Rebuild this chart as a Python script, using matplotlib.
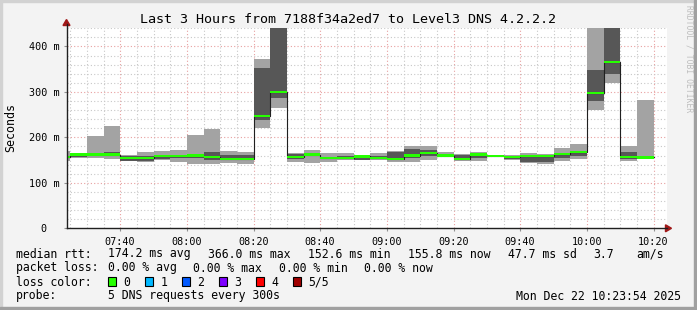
import numpy as np
import matplotlib
matplotlib.use("Agg")
import matplotlib.pyplot as plt
from matplotlib.patches import Rectangle, Polygon

# 5 min steps, first one starts 07:20 (clipped at the left edge)
first_step = "07:20"
ping_min = [149, 155, 155, 152, 147, 146, 150, 146, 141, 141, 144, 142,
            220, 265, 146, 144, 146, 150, 150, 150, 145, 146, 151, 156,
            149, 148, 156, 151, 143, 141, 148, 152, 260, 320, 149, 154]
ping_lo = [154, 156, 160, 158, 149, 147, 152, 155, 155, 150, 152, 152,
           238, 286, 152, 158, 153, 153, 151, 152, 150, 155, 160, 158,
           151, 155, 157, 153, 145, 146, 155, 160, 280, 339, 152, 155]
median = [157, 162, 162, 162, 154, 154, 159, 159, 160, 157.5, 153, 153,
          247, 300, 157, 162, 154, 154, 158, 155, 153, 160, 165, 160,
          152, 162, 158.5, 157.5, 159, 159, 163, 168, 298, 366, 157.5, 155.8]
ping_hi = [160, 163, 165, 167, 160, 160, 162, 161, 164, 167, 162, 162,
           352, 460, 163, 164, 156, 158, 159, 160, 168, 174, 172, 163,
           161, 166, 160, 159, 161, 160, 166, 170, 348, 460, 168, 158]
ping_max = [170, 166, 203, 225, 162, 168, 171, 172, 205, 218, 170, 168,
            372, 480, 166, 172, 166, 165, 161, 166, 169, 180, 180, 168,
            163, 168, 161, 162, 166, 163, 177, 185, 470, 490, 180, 282]

x_major = ["07:40", "08:00", "08:20", "08:40", "09:00", "09:20", "09:40", "10:00", "10:20"]
y_major = [0, 100, 200, 300, 400]
y_labels = ["0  ", "100 m", "200 m", "300 m", "400 m"]

title = "Last 3 Hours from 7188f34a2ed7 to Level3 DNS 4.2.2.2"
end_time = "10:23:54"

loss_colors = ["#26ff00", "#00b8ff", "#0059ff", "#7e00ff", "#ff0000", "#a00000"]
loss_names = ["0", "1", "2", "3", "4", "5/5"]


def tmin(s):
    p = [float(v) for v in s.split(":")]
    return p[0] * 60 + p[1] + (p[2] / 60 if len(p) > 2 else 0)


W, H = 697, 310
mono = "DejaVu Sans Mono"
plt.rcParams["font.family"] = mono

fig = plt.figure(figsize=(W / 100, H / 100), dpi=100)
fig.patch.set_facecolor("#f3f3f3")


def fx(x):
    return x / W


def fy(y):
    return 1 - y / H


t1 = tmin(end_time)
t0 = t1 - 180
ax = fig.add_axes([fx(66.5), fy(228.3), 600 / W, 200 / H])
ax.set_facecolor("white")
ax.set_xlim(t0, t1)
ax.set_ylim(0, 440)

n = len(median)
edges = tmin(first_step) + 5 * np.arange(n + 1)


def ext(a):
    a = np.asarray(a, float)
    return np.append(a, a[-1])


ax.fill_between(edges, ext(ping_min), ext(ping_max), step="post", color="#a3a3a3", lw=0, zorder=2)
ax.fill_between(edges, ext(ping_lo), ext(ping_hi), step="post", color="#575757", lw=0, zorder=3)
ax.step(edges, ext(median), where="post", color="#202020", lw=0.8, zorder=4)
sw = 2.6
ax.fill_between(edges, ext(median) - sw, ext(median) + sw, step="post", color=loss_colors[0], lw=0, zorder=5)

# grid
major_x = [tmin(s) for s in x_major]
minor_x = np.arange(np.ceil(t0 / 5) * 5, t1, 5)
for x in minor_x:
    if x not in major_x:
        ax.axvline(x, color="#c8c8c8", lw=0.8, ls=(0, (1, 2)), zorder=1)
for x in major_x:
    ax.axvline(x, color="#e8a0a0", lw=0.8, ls=(0, (1, 2)), zorder=1)
for y in range(20, 441, 20):
    if y % 100:
        ax.axhline(y, color="#c8c8c8", lw=0.8, ls=(0, (1, 2)), zorder=1)
for y in y_major[1:]:
    ax.axhline(y, color="#e8a0a0", lw=0.8, ls=(0, (1, 2)), zorder=1)

for s in ax.spines.values():
    s.set_visible(False)
ax.set_xticks(major_x)
ax.set_xticklabels(x_major)
ax.set_yticks(y_major)
ax.set_yticklabels(y_labels)
ax.tick_params(axis="both", length=2, width=0.8, color="#909090", labelsize=7.3, pad=3)
ax.tick_params(axis="x", pad=4)

# axis lines with arrows
fig.add_artist(plt.Line2D([fx(66.5), fx(66.5)], [fy(228.3), fy(24)], color="#202020", lw=1))
fig.add_artist(plt.Line2D([fx(66.5), fx(667)], [fy(228.3), fy(228.3)], color="#202020", lw=1))
fig.add_artist(Polygon([(fx(63), fy(25.5)), (fx(70), fy(25.5)), (fx(66.5), fy(19.5))],
                       closed=True, color="#a01818", transform=fig.transFigure))
fig.add_artist(Polygon([(fx(665.5), fy(224.8)), (fx(665.5), fy(231.8)), (fx(671.5), fy(228.3))],
                       closed=True, color="#a01818", transform=fig.transFigure))

fig.text(fx(347.5), fy(19.5), title, ha="center", va="center", fontsize=9.6)
fig.text(fx(11), fy(127.5), "Seconds", rotation=90, ha="center", va="center", fontsize=8.4)
fig.text(fx(689), fy(5), "RRDTOOL / TOBI OETIKER", rotation=-90, ha="center", va="top",
         fontsize=5.8, color="#bdbdbd")

fs = 8.3
row1 = [(16, "median rtt:"), (108, "174.2 ms avg"), (208, "366.0 ms max"), (308, "152.6 ms min"),
        (408, "155.8 ms now"), (508, "47.7 ms sd"), (593, "3.7"), (636, "am/s")]
row2 = [(16, "packet loss:"), (108, "0.00 % avg"), (193.5, "0.00 % max"), (279, "0.00 % min"),
        (364.5, "0.00 % now")]
for x, s in row1:
    fig.text(fx(x), fy(254), s, ha="left", va="center", fontsize=fs)
for x, s in row2:
    fig.text(fx(x), fy(268), s, ha="left", va="center", fontsize=fs)
fig.text(fx(16), fy(282), "loss color:", ha="left", va="center", fontsize=fs)
for i, (c, name) in enumerate(zip(loss_colors, loss_names)):
    bx = 108.3 + i * 37
    fig.add_artist(Rectangle((fx(bx), fy(286)), 7.7 / W, 9 / H, facecolor=c, edgecolor="black",
                             lw=0.8, transform=fig.transFigure))
    fig.text(fx(bx + 15), fy(282), name, ha="left", va="center", fontsize=fs)
fig.text(fx(16), fy(296), "probe:", ha="left", va="center", fontsize=fs)
fig.text(fx(108), fy(296), "5 DNS requests every 300s", ha="left", va="center", fontsize=fs)
fig.text(fx(681), fy(296), "Mon Dec 22 10:23:54 2025", ha="right", va="center", fontsize=fs)

# frame
fig.add_artist(Rectangle((0, 0), 2 / W, 1, color="#d2d2d2", transform=fig.transFigure))
fig.add_artist(Rectangle((0, 1 - 2 / H), 1, 2 / H, color="#d2d2d2", transform=fig.transFigure))
fig.add_artist(Rectangle((1 - 3 / W, 0), 3 / W, 1, color="#a0a0a0", transform=fig.transFigure))
fig.add_artist(Rectangle((0, 0), 1, 3 / H, color="#a0a0a0", transform=fig.transFigure))

fig.savefig("out.png", dpi=100, facecolor=fig.get_facecolor())
